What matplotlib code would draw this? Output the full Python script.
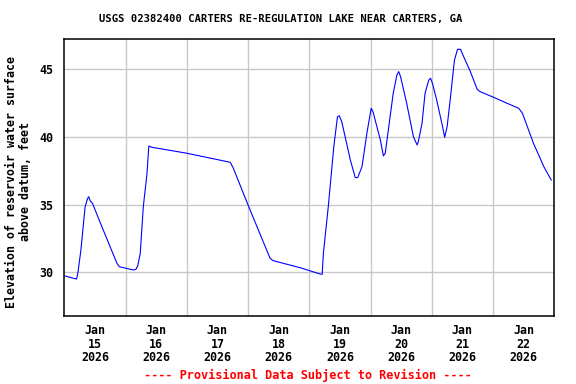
import matplotlib
matplotlib.use("Agg")
import matplotlib.pyplot as plt
import pandas as pd

# gauge readings (days after 2026-01-15 00:00, feet)
day_offset = [0.01, 0.20, 0.22, 0.27, 0.34, 0.38, 0.40, 0.42, 0.46, 0.58, 0.72, 0.86, 0.90,
              1.13, 1.17, 1.20, 1.24, 1.29, 1.35, 1.38, 1.43, 2.00, 2.71, 2.76, 3.00, 3.36, 3.41,
              3.85, 4.18, 4.21, 4.23, 4.31, 4.40, 4.46, 4.49, 4.53, 4.67, 4.75, 4.79, 4.86,
              4.94, 5.01, 5.04, 5.16, 5.21, 5.24, 5.29, 5.37, 5.43, 5.46, 5.49, 5.59, 5.70,
              5.76, 5.78, 5.84, 5.89, 5.95, 5.98, 6.01, 6.08, 6.17, 6.21, 6.25, 6.30, 6.37,
              6.42, 6.47, 6.52, 6.63, 6.74, 6.79, 7.01, 7.23, 7.42, 7.48, 7.66, 7.83, 7.95]
elevation = [29.73, 29.50, 29.90, 31.60, 34.85, 35.45, 35.59, 35.30, 35.10, 33.74, 32.20, 30.66, 30.41,
             30.17, 30.22, 30.50, 31.40, 34.85, 37.30, 39.33, 39.24, 38.80, 38.13, 37.69, 34.97, 31.03, 30.86,
             30.34, 29.87, 29.85, 31.40, 34.85, 39.28, 41.50, 41.57, 41.13, 38.30, 37.00, 37.00, 37.80,
             40.27, 42.12, 41.87, 39.78, 38.60, 38.80, 40.50, 43.23, 44.58, 44.83, 44.46, 42.49, 40.02,
             39.41, 39.65, 41.00, 43.23, 44.21, 44.34, 43.97, 42.73, 40.89, 39.98, 40.76, 42.73, 45.69,
             46.48, 46.48, 45.94, 44.83, 43.53, 43.35, 42.93, 42.49, 42.12, 41.75, 39.53, 37.80, 36.82]

start = pd.Timestamp("2026-01-15")
end = pd.Timestamp("2026-01-23")
y_ticks = [30, 35, 40, 45]

times = start + pd.to_timedelta(day_offset, unit="D")

mono = "DejaVu Sans Mono"
fs = 8.4

fig = plt.figure(figsize=(5.76, 3.84), dpi=100)
ax = fig.add_axes([64.3 / 576, 68 / 384, 490 / 576, 276.7 / 384])

ax.plot(times, elevation, color="#0000ff", linewidth=0.8)

ax.set_xlim(start, end)
ax.set_ylim(26.77, 47.22)

# labels at noon, gridlines at midnight
label_days = pd.date_range(start, periods=8, freq="D") + pd.Timedelta(hours=12)
ax.set_xticks(label_days)
ax.set_xticklabels([f"Jan\n{d.day}\n{d.year}" for d in label_days],
                   fontfamily=mono, fontweight="bold", fontsize=fs, linespacing=1.05)
ax.set_xticks(pd.date_range(start, end, freq="D")[1:-1], minor=True)
ax.tick_params(axis="x", which="both", length=0, pad=6)
ax.grid(True, which="minor", axis="x", color="#c8c8c8", linewidth=1.0)

ax.set_yticks(y_ticks)
ax.set_yticklabels([str(v) for v in y_ticks], fontfamily=mono, fontweight="bold", fontsize=fs)
ax.tick_params(axis="y", length=0, pad=8)
ax.grid(True, which="major", axis="y", color="#c8c8c8", linewidth=1.0)
ax.set_axisbelow(True)

for s in ax.spines.values():
    s.set_linewidth(1.1)

fig.text(281 / 576, 1 - 19 / 384, "USGS 02382400 CARTERS RE-REGULATION LAKE NEAR CARTERS, GA",
         ha="center", va="center", fontfamily=mono, fontweight="bold", fontsize=7.6)
fig.text(19 / 576, 1 - 182 / 384, "Elevation of reservoir water surface\nabove datum, feet",
         ha="center", va="center", rotation=90, fontfamily=mono, fontweight="bold",
         fontsize=fs, linespacing=1.1)
fig.text(308 / 576, 1 - 375 / 384, "---- Provisional Data Subject to Revision ----",
         ha="center", va="center", color="#ff0000", fontfamily=mono, fontweight="bold", fontsize=8.6)

fig.savefig("out.png", dpi=100)
